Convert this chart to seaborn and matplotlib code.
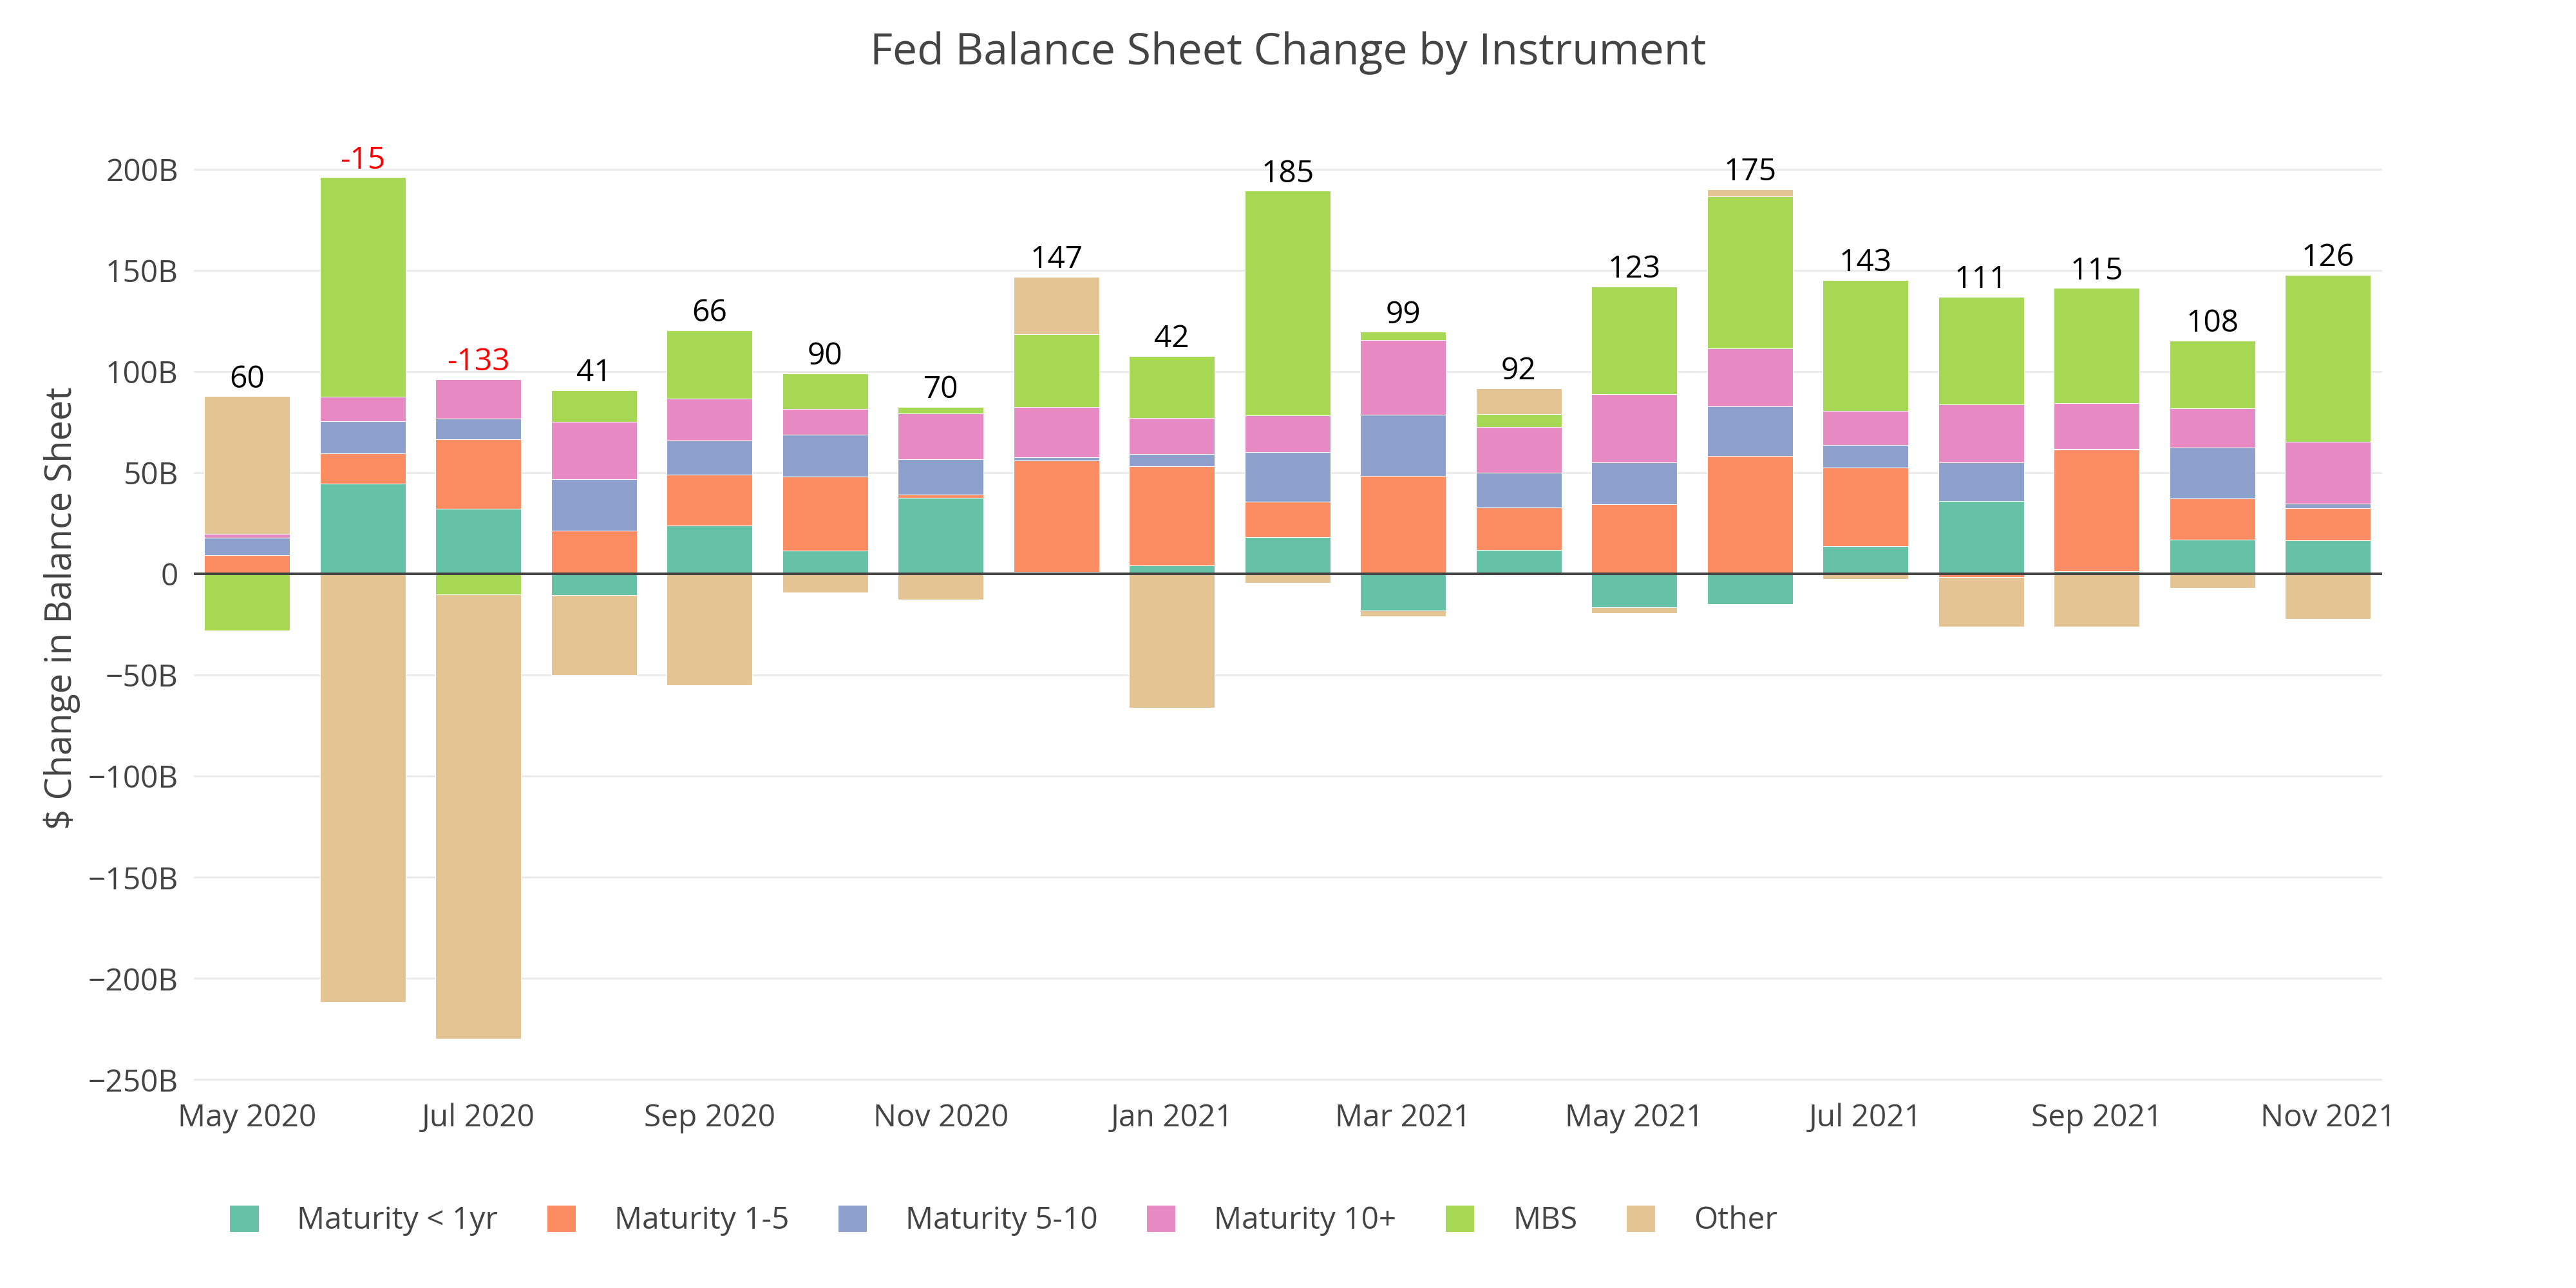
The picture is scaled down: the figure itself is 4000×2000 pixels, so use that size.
import numpy as np
import pandas as pd
import matplotlib
matplotlib.use("Agg")
import matplotlib.pyplot as plt
from matplotlib.patches import Patch
from matplotlib.ticker import FuncFormatter
import seaborn as sns

months = ["May 2020", "Jun 2020", "Jul 2020", "Aug 2020", "Sep 2020", "Oct 2020",
          "Nov 2020", "Dec 2020", "Jan 2021", "Feb 2021", "Mar 2021", "Apr 2021",
          "May 2021", "Jun 2021", "Jul 2021", "Aug 2021", "Sep 2021", "Oct 2021",
          "Nov 2021"]

series_names = ["Maturity < 1yr", "Maturity 1-5", "Maturity 5-10", "Maturity 10+", "MBS", "Other"]

mat_lt1 = [0.0, 44.6, 32.1, -10.6, 24.0, 11.5, 37.5, 1.0, 4.1, 18.3, -18.0, 11.7,
           -16.6, -14.9, 13.6, 36.0, 1.3, 16.9, 16.6]
mat_1_5 = [9.4, 14.9, 34.6, 21.4, 25.0, 36.7, 1.8, 55.2, 49.0, 17.4, 48.4, 21.3,
           34.6, 58.3, 39.0, -1.5, 60.1, 20.3, 15.9]
mat_5_10 = [8.6, 15.9, 10.2, 25.6, 16.9, 20.5, 17.4, 1.5, 6.2, 24.7, 30.2, 16.9,
            20.6, 24.4, 11.2, 19.2, 0.5, 25.2, 2.4]
mat_10p = [1.9, 12.3, 19.3, 28.2, 20.9, 13.0, 22.7, 24.7, 17.9, 18.0, 36.9, 22.7,
           33.8, 28.7, 16.7, 28.7, 22.7, 19.6, 30.5]
mbs = [-28.1, 108.4, -10.2, 15.7, 33.6, 17.5, 3.1, 36.0, 30.5, 111.0, 4.2, 6.5,
       53.1, 75.3, 64.9, 53.2, 56.7, 33.3, 82.5]
other = [67.9, -211.7, -219.6, -39.4, -54.9, -9.3, -12.7, 28.4, -66.2, -4.4, -2.9, 12.8,
         -2.8, 3.4, -2.6, -24.7, -26.1, -7.1, -22.1]

net_labels = [60, -15, -133, 41, 66, 90, 70, 147, 42, 185, 99, 92, 123, 175, 143,
              111, 115, 108, 126]

tick_labels = ["May 2020", "Jul 2020", "Sep 2020", "Nov 2020", "Jan 2021",
               "Mar 2021", "May 2021", "Jul 2021", "Sep 2021", "Nov 2021"]
y_ticks = [-250, -200, -150, -100, -50, 0, 50, 100, 150, 200]

sns.set_theme(style="white")
plt.rcParams['font.family'] = ['Open Sans', 'DejaVu Sans']

set2 = sns.color_palette("Set2", 8)
colors = [set2[0], set2[1], set2[2], set2[3], set2[4], set2[6]]

all_series = [mat_lt1, mat_1_5, mat_5_10, mat_10p, mbs, other]

fig = plt.figure(figsize=(16, 8), dpi=250)
ax = fig.add_axes([0.0753, 0.154, 0.8495, 0.738])

TXT = "#444444"
pos_cum = np.zeros(len(months))
neg_cum = np.zeros(len(months))
for name, vals, col in zip(series_names, all_series, colors):
    v = np.array(vals, dtype=float)
    bottom = np.where(v >= 0, pos_cum, neg_cum)
    df = pd.DataFrame({"month": months, "value": v})
    sns.barplot(data=df, x="month", y="value", order=months, color=col,
                errorbar=None, width=0.74, bottom=bottom, ax=ax,
                edgecolor="white", linewidth=0.3, saturation=1)
    pos_cum = pos_cum + np.where(v >= 0, v, 0)
    neg_cum = neg_cum + np.where(v < 0, v, 0)

for i, lab in enumerate(net_labels):
    ax.annotate(str(lab), (i, pos_cum[i]), xytext=(0, 0.8), textcoords="offset points",
                ha="center", va="bottom", fontsize=13.8,
                color="red" if lab < 0 else "black")

ax.set_xlim(-0.46, len(months) - 1 + 0.47)
ax.set_ylim(-255, 215)
ax.set_yticks(y_ticks)
ax.yaxis.set_major_formatter(FuncFormatter(
    lambda v, p: "0" if v == 0 else (f"\u2212{int(-v)}B" if v < 0 else f"{int(v)}B")))
ax.set_xticks(range(0, len(months), 2))
ax.set_xticklabels(tick_labels)
ax.tick_params(axis="both", length=0, labelsize=13.8, labelcolor=TXT)
ax.tick_params(axis="y", pad=7)
ax.tick_params(axis="x", pad=6)
ax.set_xlabel("")
ax.set_ylabel("")
ax.yaxis.grid(True, color="#ebebeb", linewidth=0.86)
ax.xaxis.grid(False)
ax.set_axisbelow(True)
for s in ax.spines.values():
    s.set_visible(False)
ax.axhline(0, color=TXT, linewidth=1.15, zorder=3)

fig.text(0.024, 0.528, "$ Change in Balance Sheet", rotation=90, ha="center",
         va="center", fontsize=16.1, color=TXT)
fig.text(0.5, 0.959, "Fed Balance Sheet Change by Instrument", ha="center",
         va="center", fontsize=19.6, color=TXT)

handles = [Patch(facecolor=c, edgecolor="white", linewidth=0.3) for c in colors]
fig.legend(handles, series_names, loc="center left", bbox_to_anchor=(0.089, 0.0525),
           ncol=6, frameon=False, fontsize=13.8, labelcolor=TXT,
           handlelength=0.95, handleheight=1.0, handletextpad=1.25,
           columnspacing=1.57, borderpad=0, borderaxespad=0)

fig.savefig("out.png", dpi=250)
